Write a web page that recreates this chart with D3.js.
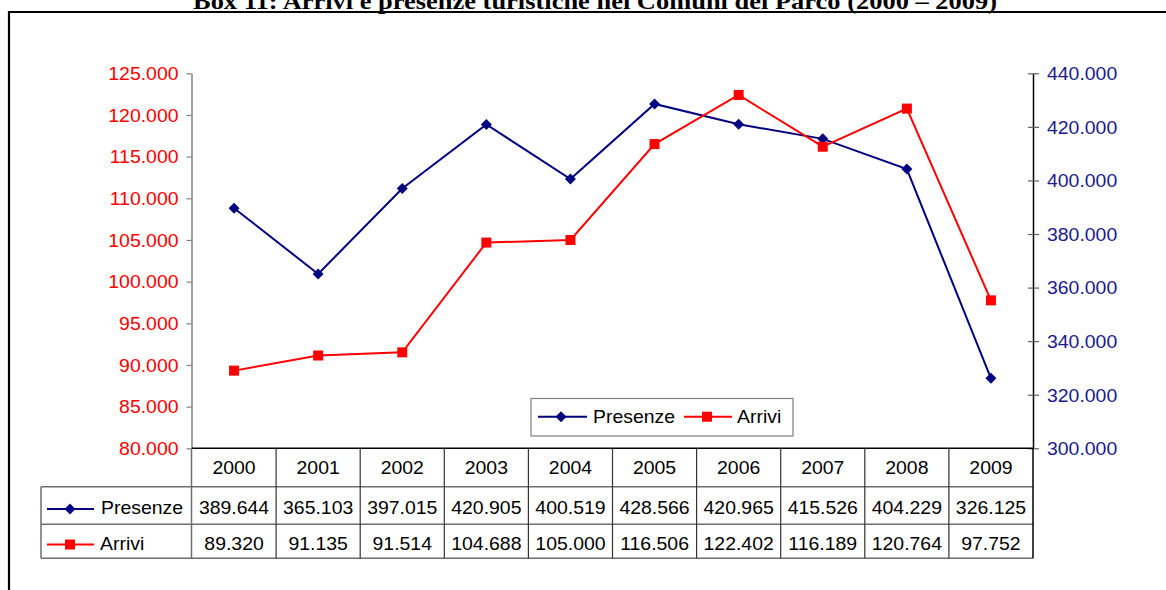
<!DOCTYPE html>
<html><head><meta charset="utf-8">
<script src="https://cdn.jsdelivr.net/npm/d3@7"></script>
<style>
html,body{margin:0;padding:0;background:#fff;}
svg{display:block;}
text{font-family:"Liberation Sans",Arial,sans-serif;}
</style></head>
<body>
<svg id="c" width="1166" height="590"></svg>
<script>
const years = ["2000","2001","2002","2003","2004","2005","2006","2007","2008","2009"];
const presenze = [389644, 365103, 397015, 420905, 400519, 428566, 420965, 415526, 404229, 326125];
const arrivi = [89320, 91135, 91514, 104688, 105000, 116506, 122402, 116189, 120764, 97752];
const leftTicks = [80000, 85000, 90000, 95000, 100000, 105000, 110000, 115000, 120000, 125000];
const rightTicks = [300000, 320000, 340000, 360000, 380000, 400000, 420000, 440000];
const seriesNames = ["Presenze", "Arrivi"];
const titleText = "Box 11:  Arrivi e presenze turistiche nei Comuni del Parco (2000 – 2009)";

const BLUE = "#000080", RED = "#ff0000", AXBLUE = "#1a1a8c";
const FS = 18, SX = 1.08;
const loc = d3.formatLocale({decimal: ",", thousands: ".", grouping: [3], currency: ["", "€"]});
const fmt = loc.format(",d");

const svg = d3.select("#c");
const L = 192, R = 1033, T = 73.3, B = 448.3;
const x = d3.scaleBand().domain(years).range([L, R]);
const yL = d3.scaleLinear().domain([80000, 125000]).range([B, T]);
const yR = d3.scaleLinear().domain([300000, 440000]).range([B, T]);

// frame
svg.append("path").attr("d", "M9,590 V12 H1166").attr("fill", "none").attr("stroke", "#000").attr("stroke-width", 2.2);
// title (cut off at the top edge, as in the reference)
svg.append("text").attr("x", 595).attr("y", 9.3).attr("text-anchor", "middle")
  .attr("textLength", 804).attr("lengthAdjust", "spacingAndGlyphs")
  .style("font-family", "'Liberation Serif','Times New Roman',serif").style("font-weight", "bold").style("font-size", "23px")
  .text(titleText);

function stxt(g, px, py, str, anchor, color) {
  return g.append("text").attr("transform", `translate(${px},${py}) scale(${SX},1)`)
    .attr("text-anchor", anchor).attr("fill", color || "#000").style("font-size", FS + "px").text(str);
}

// left axis
const gl = svg.append("g").attr("transform", `translate(${L - 0.5},0)`)
  .call(d3.axisLeft(yL).tickValues(leftTicks).tickFormat(fmt).tickSizeInner(5).tickSizeOuter(0).tickPadding(13));
gl.select(".domain").attr("stroke", "#808080").attr("stroke-width", 1.5);
gl.selectAll(".tick line").attr("stroke", "#808080").attr("stroke-width", 1.2);
gl.selectAll(".tick text").attr("fill", RED).style("font-size", FS + "px").style("font-family", "'Liberation Sans',Arial,sans-serif")
  .attr("x", -13 / SX).attr("dy", "0.35em").attr("transform", `scale(${SX},1)`);

// right axis
const gr = svg.append("g").attr("transform", `translate(${R},0)`)
  .call(d3.axisRight(yR).tickValues(rightTicks).tickFormat(fmt).tickSizeInner(6).tickSizeOuter(0).tickPadding(14));
gr.select(".domain").attr("stroke", "#000").attr("stroke-width", 1.5);
gr.selectAll(".tick line").attr("stroke", "#606060").attr("x1", -5).attr("stroke-width", 1.2);
gr.selectAll(".tick text").attr("fill", AXBLUE).style("font-size", FS + "px").style("font-family", "'Liberation Sans',Arial,sans-serif")
  .attr("x", 14 / SX).attr("dy", "0.35em").attr("transform", `scale(${SX},1)`);

// data table
const tb = svg.append("g");
const rowsY = [B, 486.7, 524.3, 558.3];
const TL = 41;
const gray = "#6e6e6e";
tb.append("line").attr("x1", L).attr("x2", R).attr("y1", B).attr("y2", B).attr("stroke", "#000").attr("stroke-width", 1.5);
tb.append("line").attr("x1", TL).attr("x2", R).attr("y1", rowsY[1]).attr("y2", rowsY[1]).attr("stroke", gray).attr("stroke-width", 1.5);
tb.append("line").attr("x1", TL).attr("x2", R).attr("y1", rowsY[2]).attr("y2", rowsY[2]).attr("stroke", gray).attr("stroke-width", 1.5);
tb.append("line").attr("x1", TL).attr("x2", R).attr("y1", rowsY[3]).attr("y2", rowsY[3]).attr("stroke", gray).attr("stroke-width", 1.5);
tb.append("line").attr("x1", TL).attr("x2", TL).attr("y1", rowsY[1]).attr("y2", rowsY[3]).attr("stroke", gray).attr("stroke-width", 1.5);
years.forEach((yr, i) => {
  if (i > 0) tb.append("line").attr("x1", x(yr)).attr("x2", x(yr)).attr("y1", B).attr("y2", rowsY[3]).attr("stroke", "#333").attr("stroke-width", 1.2);
});
tb.append("line").attr("x1", L - 0.5).attr("x2", L - 0.5).attr("y1", B).attr("y2", rowsY[3]).attr("stroke", gray).attr("stroke-width", 1.5);
tb.append("line").attr("x1", R).attr("x2", R).attr("y1", B).attr("y2", rowsY[3]).attr("stroke", "#000").attr("stroke-width", 1.5);

const cx = yr => x(yr) + x.bandwidth() / 2;
years.forEach((yr, i) => {
  stxt(tb, cx(yr), 473.5, yr, "middle");
  stxt(tb, cx(yr), 514, fmt(presenze[i]), "middle");
  stxt(tb, cx(yr), 549.5, fmt(arrivi[i]), "middle");
});

// markers
const diamond = (g, px, py, s) => g.append("path").attr("d", `M${px},${py - s} L${px + s},${py} L${px},${py + s} L${px - s},${py} Z`).attr("fill", BLUE);
const square = (g, px, py, s) => g.append("rect").attr("x", px - s / 2).attr("y", py - s / 2).attr("width", s).attr("height", s).attr("fill", RED);

// table legend keys
tb.append("line").attr("x1", 47).attr("x2", 94).attr("y1", 509).attr("y2", 509).attr("stroke", BLUE).attr("stroke-width", 2);
diamond(tb, 70, 509, 5.5);
stxt(tb, 101, 514, seriesNames[0], "start");
tb.append("line").attr("x1", 47).attr("x2", 94).attr("y1", 544.5).attr("y2", 544.5).attr("stroke", RED).attr("stroke-width", 2);
square(tb, 70, 544.5, 10);
stxt(tb, 100, 549.5, seriesNames[1], "start");

// lines
const gp = svg.append("g");
const lineP = d3.line().x((d, i) => cx(years[i])).y(d => yR(d));
const lineA = d3.line().x((d, i) => cx(years[i])).y(d => yL(d));
gp.append("path").attr("d", lineP(presenze)).attr("fill", "none").attr("stroke", BLUE).attr("stroke-width", 2);
gp.append("path").attr("d", lineA(arrivi)).attr("fill", "none").attr("stroke", RED).attr("stroke-width", 2);
presenze.forEach((v, i) => diamond(gp, cx(years[i]), yR(v), 5.5));
arrivi.forEach((v, i) => square(gp, cx(years[i]), yL(v), 10));

// legend box
const lg = svg.append("g");
lg.append("rect").attr("x", 531).attr("y", 398.5).attr("width", 262).attr("height", 37.5).attr("fill", "#fff").attr("stroke", "#808080").attr("stroke-width", 1.2);
lg.append("line").attr("x1", 538).attr("x2", 587).attr("y1", 416.7).attr("y2", 416.7).attr("stroke", BLUE).attr("stroke-width", 2);
diamond(lg, 561, 416.7, 5.5);
stxt(lg, 593, 423, seriesNames[0], "start");
lg.append("line").attr("x1", 684).attr("x2", 732).attr("y1", 416.7).attr("y2", 416.7).attr("stroke", RED).attr("stroke-width", 2);
square(lg, 707, 416.7, 10);
stxt(lg, 737, 423, seriesNames[1], "start");
</script>
</body></html>
